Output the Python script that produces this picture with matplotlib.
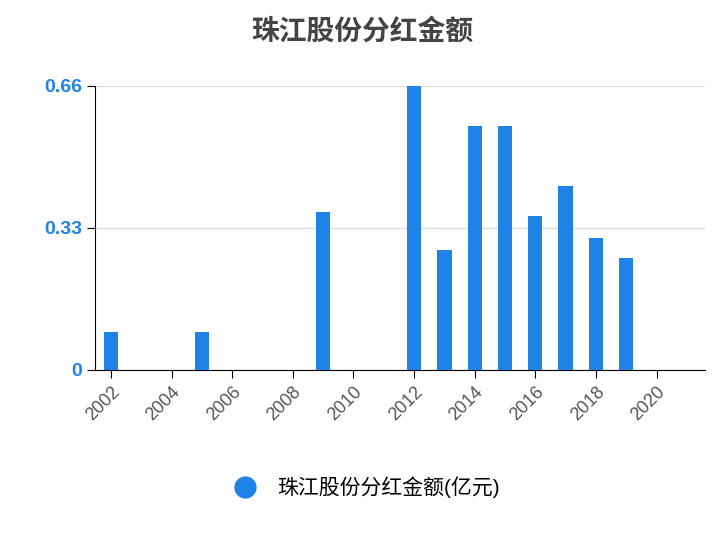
import matplotlib
matplotlib.use("Agg")
import matplotlib.pyplot as plt

plt.rcParams['font.family'] = ['Liberation Sans', 'Noto Sans CJK SC', 'DejaVu Sans']

years = [2002, 2005, 2009, 2012, 2013, 2014, 2015, 2016, 2017, 2018, 2019]
values = [0.088, 0.088, 0.367, 0.66, 0.279, 0.567, 0.567, 0.358, 0.428, 0.307, 0.26]
xticks = list(range(2002, 2021, 2))
yticks = [0, 0.33, 0.66]
ylabels = ["0", "0.33", "0.66"]
blue = "#1f82e6"

fig = plt.figure(figsize=(7.24, 5.4), dpi=100)
ax = fig.add_axes([95/724, 1-370/540, 610/724, 284/540])
ax.bar(years, values, width=0.47, color=blue, zorder=3)
ax.set_xlim(2001.47, 2021.6)
ax.set_ylim(0, 0.66)
ax.set_yticks(yticks)
ax.set_yticklabels(ylabels, color=blue, fontweight="bold", fontsize=14)
ax.set_xticks(xticks)
ax.set_xticklabels([str(x) for x in xticks], rotation=45, ha="right",
                   rotation_mode="anchor", color="#555555", fontsize=13)
ax.grid(axis="y", color="#dddddd", linewidth=1, zorder=0)
for s in ["top", "right"]:
    ax.spines[s].set_visible(False)
for s in ["left", "bottom"]:
    ax.spines[s].set_color("black")
ax.tick_params(axis="y", length=6)
ax.tick_params(axis="x", length=6)
fig.suptitle("珠江股份分红金额", x=0.5, y=0.965, fontsize=20, fontweight="bold", color="#444444")
h = plt.Line2D([], [], marker="o", color=blue, linestyle="none", markersize=15)
fig.legend([h], ["珠江股份分红金额(亿元)"], loc="center", bbox_to_anchor=(0.5, 1-487/540),
           frameon=False, fontsize=15, handletextpad=0.5)
fig.savefig("out.png", dpi=100)
